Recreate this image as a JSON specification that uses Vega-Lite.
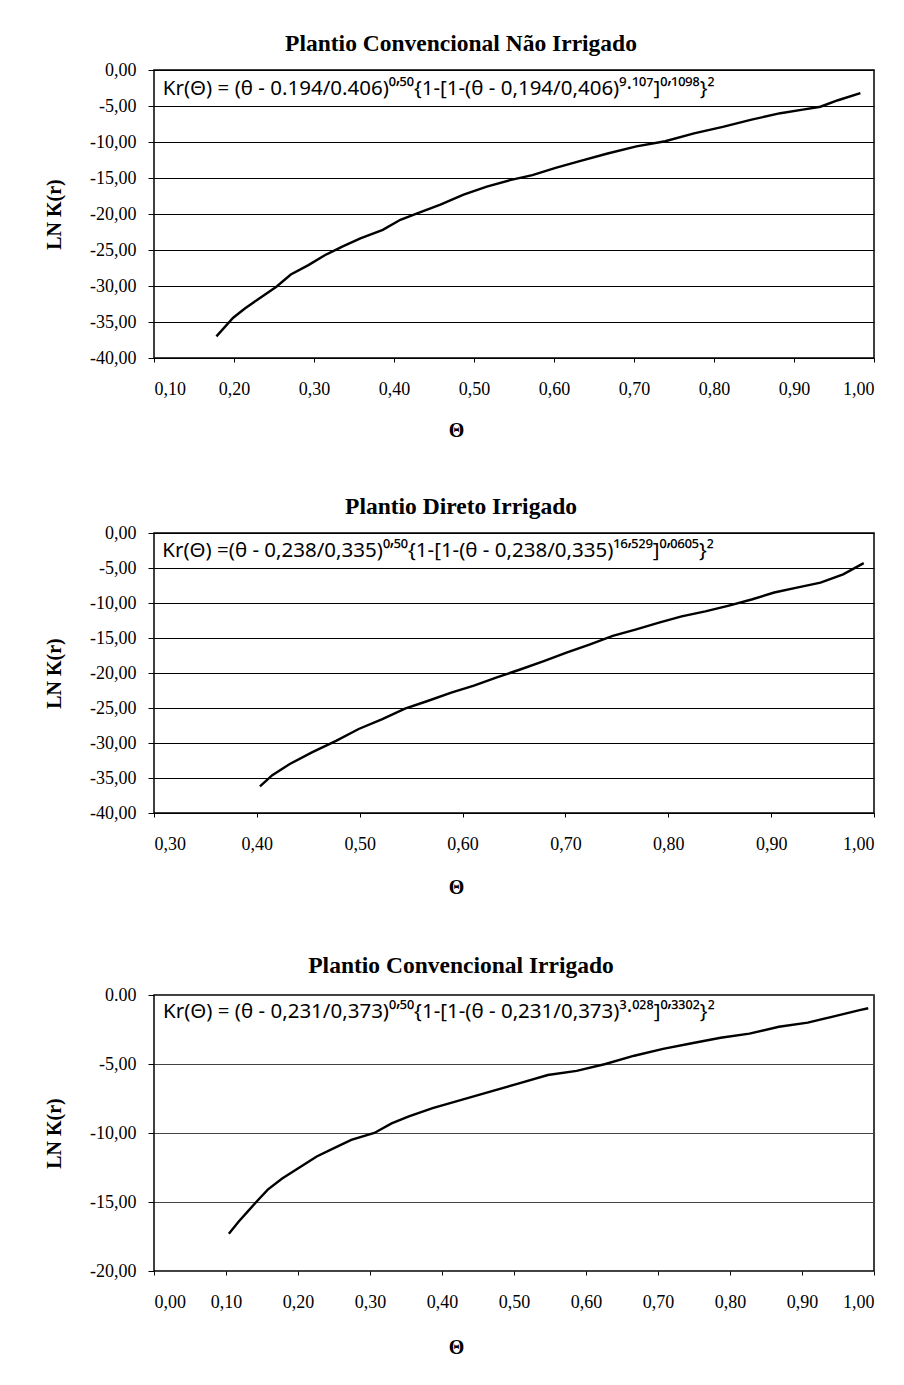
{
  "$schema": "https://vega.github.io/schema/vega-lite/v6.json",
  "background": "white",
  "padding": {"left": 43, "top": 30, "right": 10, "bottom": 5},
  "config": {
    "view": {"stroke": "black", "strokeWidth": 1.5},
    "font": "Liberation Serif",
    "title": {"font": "Liberation Serif", "fontWeight": "bold", "fontSize": 23.5, "color": "black", "anchor": "middle", "dx": -53, "offset": 6, "baseline": "middle"},
    "axis": {
      "labelFont": "Liberation Serif", "labelFontSize": 18, "labelColor": "black", "labelOverlap": false,
      "titleFont": "Liberation Serif", "titleFontWeight": "bold", "titleFontSize": 20, "titleColor": "black",
      "domain": false, "tickColor": "black", "gridColor": "black", "gridWidth": 1
    },
    "axisX": {"grid": false, "tickSize": 4, "labelPadding": 18, "titleX": 302, "titleBaseline": "middle", "titleAlign": "center"},
    "axisY": {"grid": true, "tickSize": 6, "labelPadding": 12, "titleX": -100, "titleBaseline": "middle", "titleAlign": "center", "titleAngle": -90},
    "text": {"font": "Noto Sans", "fontSize": 20.5, "color": "black", "align": "left", "baseline": "middle"},
    "line": {"color": "black", "strokeWidth": 2.4}
  },
  "datasets": {
    "c1": [
      {"theta": 0.178, "lnk": -37.0}, {"theta": 0.199, "lnk": -34.4}, {"theta": 0.214, "lnk": -33.1},
      {"theta": 0.232, "lnk": -31.7}, {"theta": 0.253, "lnk": -30.1}, {"theta": 0.271, "lnk": -28.4},
      {"theta": 0.293, "lnk": -27.1}, {"theta": 0.314, "lnk": -25.7}, {"theta": 0.336, "lnk": -24.5},
      {"theta": 0.358, "lnk": -23.4}, {"theta": 0.386, "lnk": -22.2}, {"theta": 0.408, "lnk": -20.8},
      {"theta": 0.429, "lnk": -19.9}, {"theta": 0.458, "lnk": -18.7}, {"theta": 0.487, "lnk": -17.3},
      {"theta": 0.516, "lnk": -16.2}, {"theta": 0.545, "lnk": -15.3}, {"theta": 0.573, "lnk": -14.6},
      {"theta": 0.602, "lnk": -13.6}, {"theta": 0.631, "lnk": -12.7}, {"theta": 0.667, "lnk": -11.6},
      {"theta": 0.703, "lnk": -10.6}, {"theta": 0.739, "lnk": -9.9}, {"theta": 0.775, "lnk": -8.8},
      {"theta": 0.811, "lnk": -7.9}, {"theta": 0.847, "lnk": -6.9}, {"theta": 0.883, "lnk": -6.0},
      {"theta": 0.911, "lnk": -5.5}, {"theta": 0.933, "lnk": -5.1}, {"theta": 0.955, "lnk": -4.2},
      {"theta": 0.983, "lnk": -3.2}
    ],
    "c2": [
      {"theta": 0.403, "lnk": -36.2}, {"theta": 0.415, "lnk": -34.6}, {"theta": 0.432, "lnk": -33.0},
      {"theta": 0.454, "lnk": -31.3}, {"theta": 0.477, "lnk": -29.7}, {"theta": 0.499, "lnk": -28.0},
      {"theta": 0.522, "lnk": -26.6}, {"theta": 0.544, "lnk": -25.1}, {"theta": 0.566, "lnk": -24.0},
      {"theta": 0.589, "lnk": -22.8}, {"theta": 0.611, "lnk": -21.8}, {"theta": 0.634, "lnk": -20.6},
      {"theta": 0.656, "lnk": -19.5}, {"theta": 0.679, "lnk": -18.3}, {"theta": 0.701, "lnk": -17.1},
      {"theta": 0.724, "lnk": -15.9}, {"theta": 0.746, "lnk": -14.7}, {"theta": 0.768, "lnk": -13.8},
      {"theta": 0.791, "lnk": -12.8}, {"theta": 0.813, "lnk": -11.9}, {"theta": 0.836, "lnk": -11.2},
      {"theta": 0.858, "lnk": -10.4}, {"theta": 0.881, "lnk": -9.5}, {"theta": 0.903, "lnk": -8.5},
      {"theta": 0.925, "lnk": -7.8}, {"theta": 0.948, "lnk": -7.1}, {"theta": 0.970, "lnk": -5.9},
      {"theta": 0.990, "lnk": -4.3}
    ],
    "c3": [
      {"theta": 0.104, "lnk": -17.3}, {"theta": 0.118, "lnk": -16.4}, {"theta": 0.130, "lnk": -15.7},
      {"theta": 0.142, "lnk": -15.0}, {"theta": 0.158, "lnk": -14.1}, {"theta": 0.178, "lnk": -13.3},
      {"theta": 0.202, "lnk": -12.5}, {"theta": 0.226, "lnk": -11.7}, {"theta": 0.250, "lnk": -11.1},
      {"theta": 0.274, "lnk": -10.5}, {"theta": 0.306, "lnk": -10.0}, {"theta": 0.330, "lnk": -9.3},
      {"theta": 0.354, "lnk": -8.8}, {"theta": 0.387, "lnk": -8.2}, {"theta": 0.427, "lnk": -7.6},
      {"theta": 0.467, "lnk": -7.0}, {"theta": 0.507, "lnk": -6.4}, {"theta": 0.547, "lnk": -5.8},
      {"theta": 0.587, "lnk": -5.5}, {"theta": 0.627, "lnk": -5.0}, {"theta": 0.667, "lnk": -4.4},
      {"theta": 0.707, "lnk": -3.9}, {"theta": 0.747, "lnk": -3.5}, {"theta": 0.787, "lnk": -3.1},
      {"theta": 0.827, "lnk": -2.8}, {"theta": 0.868, "lnk": -2.3}, {"theta": 0.908, "lnk": -2.0},
      {"theta": 0.940, "lnk": -1.6}, {"theta": 0.980, "lnk": -1.1}, {"theta": 0.992, "lnk": -0.96}
    ],
    "e1": [{"theta": 0.111, "lnk": -2.6, "label": "Kr(Θ) = (θ - 0.194/0.406)⁰’⁵⁰{1-[1-(θ - 0,194/0,406)⁹·¹⁰⁷]⁰’¹⁰⁹⁸}²"}],
    "e2": [{"theta": 0.308, "lnk": -2.6, "label": "Kr(Θ) =(θ - 0,238/0,335)⁰’⁵⁰{1-[1-(θ - 0,238/0,335)¹⁶’⁵²⁹]⁰’⁰⁶⁰⁵}²"}],
    "e3": [{"theta": 0.0125, "lnk": -1.25, "label": "Kr(Θ) = (θ - 0,231/0,373)⁰’⁵⁰{1-[1-(θ - 0,231/0,373)³·⁰²⁸]⁰’³³⁰²}²"}]
  },
  "vconcat": [
    {
      "vconcat": [
        {
          "width": 720, "height": 288,
          "title": {"text": "Plantio Convencional Não Irrigado"},
          "encoding": {
            "x": {"field": "theta", "type": "quantitative", "scale": {"domain": [0.1, 1.0], "nice": false, "zero": false},
                  "axis": {"title": "Θ", "values": [0.1, 0.2, 0.3, 0.4, 0.5, 0.6, 0.7, 0.8, 0.9, 1.0], "titleY": 72,
                           "labelExpr": "replace(replace(format(datum.value, '.2f'), '.', ','), '−', '-')"}},
            "y": {"field": "lnk", "type": "quantitative", "scale": {"domain": [-40, 0], "nice": false, "zero": false},
                  "axis": {"title": "LN K(r)", "values": [0, -5, -10, -15, -20, -25, -30, -35, -40], "titleY": 144,
                           "labelExpr": "replace(replace(format(datum.value, '.2f'), '.', ','), '−', '-')"}}
          },
          "layer": [
            {"data": {"name": "c1"}, "mark": {"type": "line"}},
            {"data": {"name": "e1"}, "mark": {"type": "text"}, "encoding": {"text": {"field": "label"}}}
          ]
        },
        {
          "width": 720, "height": 280,
          "title": {"text": "Plantio Direto Irrigado"},
          "encoding": {
            "x": {"field": "theta", "type": "quantitative", "scale": {"domain": [0.3, 1.0], "nice": false, "zero": false},
                  "axis": {"title": "Θ", "values": [0.3, 0.4, 0.5, 0.6, 0.7, 0.8, 0.9, 1.0], "titleY": 74,
                           "labelExpr": "replace(replace(format(datum.value, '.2f'), '.', ','), '−', '-')"}},
            "y": {"field": "lnk", "type": "quantitative", "scale": {"domain": [-40, 0], "nice": false, "zero": false},
                  "axis": {"title": "LN K(r)", "values": [0, -5, -10, -15, -20, -25, -30, -35, -40], "titleY": 140,
                           "labelExpr": "replace(replace(format(datum.value, '.2f'), '.', ','), '−', '-')"}}
          },
          "layer": [
            {"data": {"name": "c2"}, "mark": {"type": "line"}},
            {"data": {"name": "e2"}, "mark": {"type": "text"}, "encoding": {"text": {"field": "label"}}}
          ]
        }
      ],
      "spacing": 52
    },
    {
      "width": 720, "height": 276,
      "title": {"text": "Plantio Convencional Irrigado", "offset": 9},
      "encoding": {
        "x": {"field": "theta", "type": "quantitative", "scale": {"domain": [0, 1.0], "nice": false, "zero": false},
              "axis": {"title": "Θ", "values": [0, 0.1, 0.2, 0.3, 0.4, 0.5, 0.6, 0.7, 0.8, 0.9, 1.0], "titleY": 76,
                       "labelExpr": "replace(replace(format(datum.value, '.2f'), '.', ','), '−', '-')"}},
        "y": {"field": "lnk", "type": "quantitative", "scale": {"domain": [-20, 0], "nice": false, "zero": false},
              "axis": {"title": "LN K(r)", "values": [0, -5, -10, -15, -20], "titleY": 138, "gridColor": "#444444",
                       "labelExpr": "datum.value == 0 ? '0.00' : replace(replace(format(datum.value, '.2f'), '.', ','), '−', '-')"}}
      },
      "layer": [
        {"data": {"name": "c3"}, "mark": {"type": "line"}},
        {"data": {"name": "e3"}, "mark": {"type": "text"}, "encoding": {"text": {"field": "label"}}}
      ]
    }
  ],
  "spacing": 54
}
